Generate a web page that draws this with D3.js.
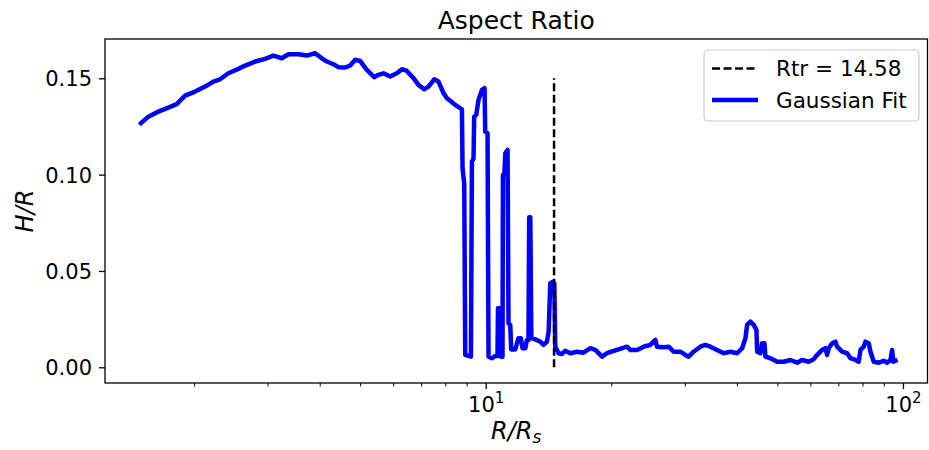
<!DOCTYPE html>
<html>
<head>
<meta charset="utf-8">
<script src="https://cdn.jsdelivr.net/npm/d3@7"></script>
<style>
  html, body { margin: 0; padding: 0; background: #fff; }
  svg text { font-family: "DejaVu Sans", sans-serif; fill: #000; }
</style>
</head>
<body>
<svg id="chart" width="929" height="450"></svg>
<script>
// ---- data ----
const radius = [1.492,1.554,1.642,1.735,1.817,1.903,2.011,2.125,2.224,2.308,
  2.416,2.554,2.651,2.801,2.960,3.098,3.246,3.366,3.557,3.727,
  3.900,4.047,4.161,4.315,4.436,4.604,4.733,4.866,5.000,5.189,
  5.402,5.532,5.687,5.902,6.125,6.295,6.471,6.713,6.900,7.121,
  7.292,7.525,7.706,7.922,8.072,8.221,8.451,8.769,8.799,8.881,
  8.931,9.215,9.267,9.348,9.384,9.489,9.610,9.792,9.934,9.972,
  10.10,10.155,10.35,10.54,10.67,10.70,10.83,10.88,10.97,10.996,
  11.08,11.14,11.28,11.34,11.45,11.51,11.77,11.98,12.14,12.25,
  12.44,12.55,12.66,12.71,12.79,12.86,13.15,13.51,13.76,14.02,
  14.15,14.28,14.50,14.60,14.68,14.95,15.23,15.51,15.95,16.55,
  17.16,17.81,18.31,19.00,19.52,20.63,21.81,22.21,23.05,23.90,
  24.80,25.50,25.74,26.70,27.44,28.21,29.27,30.09,30.64,31.50,
  32.69,33.60,34.55,35.85,37.18,38.58,40.04,41.16,41.92,42.31,
  43.09,43.88,44.55,44.72,45.54,45.97,46.55,46.81,48.12,49.93,
  51.78,53.73,55.76,57.32,59.44,61.11,62.26,64.00,65.18,65.79,
  66.39,67.64,68.89,69.54,71.49,73.48,74.84,76.93,78.34,79.08,
  80.54,81.30,82.79,83.58,85.11,87.50,89.95,91.64,93.33,94.21,
  94.74,95.94];
const aspect = [0.1267,0.1301,0.1327,0.1348,0.1366,0.1410,0.1431,0.1457,0.1483,0.1495,
  0.1526,0.1549,0.1566,0.1587,0.1601,0.1618,0.1604,0.1625,0.1625,0.1618,
  0.1630,0.1604,0.1587,0.1573,0.1558,0.1556,0.1566,0.1596,0.1590,0.1544,
  0.1506,0.1518,0.1526,0.1509,0.1526,0.1547,0.1538,0.1501,0.1466,0.1443,
  0.1457,0.1495,0.1483,0.1423,0.1397,0.1383,0.1362,0.1339,0.1033,0.0955,
  0.0064,0.0055,0.1067,0.1085,0.1301,0.1310,0.1388,0.1440,0.1449,0.1223,
  0.1215,0.0055,0.0047,0.0059,0.0059,0.0306,0.0306,0.0055,0.0055,0.0998,
  0.0998,0.1111,0.1128,0.0228,0.0220,0.0093,0.0093,0.0151,0.0151,0.0099,
  0.0099,0.0142,0.0142,0.0779,0.0779,0.0151,0.0145,0.0133,0.0116,0.0133,
  0.0185,0.0436,0.0444,0.0436,0.0107,0.0073,0.0069,0.0086,0.0073,0.0081,
  0.0076,0.0099,0.0090,0.0055,0.0073,0.0090,0.0107,0.0090,0.0090,0.0107,
  0.0116,0.0142,0.0107,0.0104,0.0107,0.0081,0.0081,0.0064,0.0055,0.0081,
  0.0107,0.0116,0.0107,0.0090,0.0073,0.0081,0.0073,0.0099,0.0151,0.0220,
  0.0237,0.0220,0.0194,0.0081,0.0073,0.0125,0.0125,0.0055,0.0047,0.0029,
  0.0029,0.0038,0.0024,0.0038,0.0029,0.0042,0.0064,0.0090,0.0099,0.0064,
  0.0099,0.0125,0.0133,0.0107,0.0081,0.0073,0.0047,0.0038,0.0029,0.0090,
  0.0107,0.0133,0.0125,0.0081,0.0029,0.0024,0.0034,0.0024,0.0038,0.0090,
  0.0029,0.0034];
const rtr = 14.58;
const rtrLineTop = 0.15;
const yTicks = [0.00, 0.05, 0.10, 0.15];
const xMajorTicks = [10, 100];
const xMinorTicks = [2,3,4,5,6,7,8,9,20,30,40,50,60,70,80,90];
const titleText = "Aspect Ratio";
const legendLabels = ["Rtr = " + rtr.toFixed(2), "Gaussian Fit"];

// ---- layout ----
const svg = d3.select("#chart");
const L = 105, R = 927.5, T = 39, B = 383;

const x = d3.scaleLog().domain([1.2232, 114.5]).range([L, R]);
const y = d3.scaleLinear().domain([-0.00815, 0.1704]).range([B, T]);

// y axis ticks
const yAxis = d3.axisLeft(y).tickValues(yTicks).tickSize(6).tickPadding(6)
  .tickFormat(d3.format(".2f"));
const gy = svg.append("g").attr("transform", `translate(${L},0)`).call(yAxis);
gy.select(".domain").remove();
gy.selectAll(".tick line").attr("stroke", "#000").attr("stroke-width", 1.3);
gy.selectAll(".tick text").attr("font-size", 21).attr("font-family", "DejaVu Sans")
  .attr("fill", "#000").attr("x", -13).attr("dy", "0.36em");

// x axis major ticks
const xAxisMajor = d3.axisBottom(x).tickValues(xMajorTicks).tickSize(6).tickFormat(() => "");
const gxM = svg.append("g").attr("transform", `translate(0,${B})`).call(xAxisMajor);
gxM.select(".domain").remove();
gxM.selectAll(".tick line").attr("stroke", "#000").attr("stroke-width", 1.3);
gxM.selectAll(".tick text").remove();
gxM.selectAll(".tick").each(function(d) {
  const t = d3.select(this).append("text")
    .attr("y", 29).attr("text-anchor", "middle").attr("font-size", 21)
    .attr("fill", "#000").attr("font-family", "DejaVu Sans");
  t.append("tspan").text("10");
  t.append("tspan").attr("font-size", 15).attr("dy", -9).text(String(Math.round(Math.log10(d))));
});

// x axis minor ticks
const xAxisMinor = d3.axisBottom(x).tickValues(xMinorTicks).tickSize(3.5).tickFormat(() => "");
const gxm = svg.append("g").attr("transform", `translate(0,${B})`).call(xAxisMinor);
gxm.select(".domain").remove();
gxm.selectAll(".tick line").attr("stroke", "#000").attr("stroke-width", 1.0);
gxm.selectAll(".tick text").remove();

// clip
svg.append("clipPath").attr("id", "plotclip").append("rect")
  .attr("x", L).attr("y", T).attr("width", R - L).attr("height", B - T);

// data line
const pts = radius.map((r, i) => [r, aspect[i]]);
const line = d3.line().x(d => x(d[0])).y(d => y(d[1]));
svg.append("path").datum(pts)
  .attr("clip-path", "url(#plotclip)")
  .attr("d", line)
  .attr("fill", "none").attr("stroke", "#0000ff").attr("stroke-width", 4.5)
  .attr("stroke-linejoin", "round").attr("stroke-linecap", "square");

// Rtr vertical dashed line
svg.append("line")
  .attr("x1", x(rtr)).attr("x2", x(rtr))
  .attr("y1", y(0)).attr("y2", y(rtrLineTop))
  .attr("stroke", "#000").attr("stroke-width", 2.5)
  .attr("stroke-dasharray", "8,3.5");

// frame
svg.append("rect").attr("x", L).attr("y", T).attr("width", R - L).attr("height", B - T)
  .attr("fill", "none").attr("stroke", "#000").attr("stroke-width", 1.3);

// title
svg.append("text").attr("x", (L + R) / 2).attr("y", 29).attr("text-anchor", "middle")
  .attr("font-size", 25).text(titleText);

// x label R/R_s
const xl = svg.append("text").attr("x", (L + R) / 2).attr("y", 439).attr("text-anchor", "middle")
  .attr("font-size", 24).attr("font-style", "italic");
xl.append("tspan").text("R/R");
xl.append("tspan").attr("font-size", 17).attr("dy", 4).text("s");

// y label H/R
svg.append("text").attr("transform", "translate(33,211) rotate(-90)")
  .attr("text-anchor", "middle").attr("font-size", 24).attr("font-style", "italic")
  .text("H/R");

// legend
const lg = svg.append("g");
lg.append("rect").attr("x", 704).attr("y", 50).attr("width", 215).attr("height", 71)
  .attr("rx", 4).attr("fill", "#fff").attr("fill-opacity", 0.8)
  .attr("stroke", "#cccccc").attr("stroke-width", 1.2);
lg.append("line").attr("x1", 712).attr("x2", 758).attr("y1", 68.5).attr("y2", 68.5)
  .attr("stroke", "#000").attr("stroke-width", 2.5).attr("stroke-dasharray", "8,3.5");
lg.append("line").attr("x1", 712).attr("x2", 758).attr("y1", 100).attr("y2", 100)
  .attr("stroke", "#0000ff").attr("stroke-width", 4.5);
lg.append("text").attr("x", 776).attr("y", 68.5).attr("dy", "0.36em").attr("font-size", 21.5)
  .text(legendLabels[0]);
lg.append("text").attr("x", 776).attr("y", 100).attr("dy", "0.36em").attr("font-size", 21.5)
  .text(legendLabels[1]);
</script>
</body>
</html>
